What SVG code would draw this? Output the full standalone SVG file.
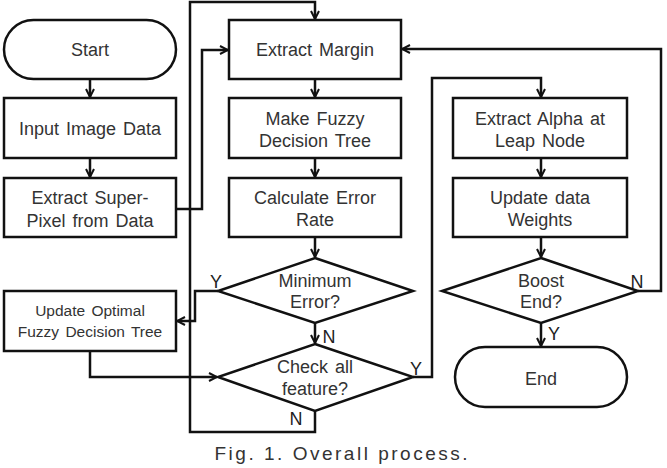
<svg xmlns="http://www.w3.org/2000/svg" width="667" height="468" viewBox="0 0 667 468">
<style>
.s{fill:#fff;stroke:#111;stroke-width:2.5}
.c{fill:none;stroke:#111;stroke-width:2.5}
.t{font-family:"Liberation Sans",Arial,sans-serif;font-size:18px;fill:#333;text-anchor:middle;word-spacing:2px}
.sm{font-size:15.5px}
.lb{font-family:"Liberation Sans",Arial,sans-serif;font-size:18px;fill:#222;text-anchor:middle}
.cap{font-family:"Liberation Sans",Arial,sans-serif;font-size:19px;fill:#333;text-anchor:middle}
</style>
<defs>
<marker id="a" viewBox="0 0 10 10" refX="9" refY="5" markerWidth="10" markerHeight="10" markerUnits="userSpaceOnUse" orient="auto">
<polyline points="1,1 9,5 1,9" fill="none" stroke="#111" stroke-width="2"/>
</marker>
</defs>
<g id="connectors">
<line class="c" x1="90" y1="79" x2="90" y2="97" marker-end="url(#a)"/>
<line class="c" x1="90" y1="158" x2="90" y2="177" marker-end="url(#a)"/>
<polyline class="c" points="176,209 202,209 202,50 228,50" marker-end="url(#a)"/>
<polyline class="c" points="315,411 315,432 190,432 190,2 315,2 315,19" marker-end="url(#a)"/>
<line class="c" x1="315" y1="79" x2="315" y2="97" marker-end="url(#a)"/>
<line class="c" x1="315" y1="158" x2="315" y2="177" marker-end="url(#a)"/>
<line class="c" x1="315" y1="237" x2="315" y2="257" marker-end="url(#a)"/>
<line class="c" x1="315" y1="323" x2="315" y2="343" marker-end="url(#a)"/>
<polyline class="c" points="218,291 195,291 195,321 177,321" marker-end="url(#a)"/>
<polyline class="c" points="90,351 90,377 217,377" marker-end="url(#a)"/>
<polyline class="c" points="413,377 432,377 432,78 541,78 541,97" marker-end="url(#a)"/>
<line class="c" x1="541" y1="158" x2="541" y2="177" marker-end="url(#a)"/>
<line class="c" x1="541" y1="237" x2="541" y2="257" marker-end="url(#a)"/>
<line class="c" x1="541" y1="323" x2="541" y2="346" marker-end="url(#a)"/>
<polyline class="c" points="638,291 661,291 661,49 402,49" marker-end="url(#a)"/>
<text class="lb" x="216" y="288">Y</text>
<text class="lb" x="329" y="343">N</text>
<text class="lb" x="416" y="375">Y</text>
<text class="lb" x="296" y="425">N</text>
<text class="lb" x="637" y="288">N</text>
<text class="lb" x="554" y="340">Y</text>
</g>
<g id="start"><rect class="s" x="4" y="20" width="172" height="59" rx="29.5"/><text class="t" x="90" y="56">Start</text></g>
<g id="input"><rect class="s" x="4" y="98" width="172" height="60"/><text class="t" x="90" y="135">Input Image Data</text></g>
<g id="superpixel"><rect class="s" x="4" y="178" width="172" height="59"/><text class="t" x="90" y="204">Extract Super-</text><text class="t" x="90" y="227">Pixel from Data</text></g>
<g id="updateoptimal"><rect class="s" x="4" y="291" width="172" height="60"/><text class="t sm" x="90" y="316">Update Optimal</text><text class="t sm" x="90" y="337">Fuzzy Decision Tree</text></g>
<g id="margin"><rect class="s" x="229" y="20" width="172" height="59"/><text class="t" x="315" y="56">Extract Margin</text></g>
<g id="fuzzy"><rect class="s" x="229" y="98" width="172" height="60"/><text class="t" x="315" y="125">Make Fuzzy</text><text class="t" x="315" y="147">Decision Tree</text></g>
<g id="error"><rect class="s" x="229" y="178" width="172" height="59"/><text class="t" x="315" y="204">Calculate Error</text><text class="t" x="315" y="226">Rate</text></g>
<g id="minerror"><polygon class="s" points="315,258 413,291 315,323 218,291"/><text class="t" x="315" y="287">Minimum</text><text class="t" x="315" y="308">Error?</text></g>
<g id="checkall"><polygon class="s" points="315,344 413,377 315,411 218,377"/><text class="t" x="315" y="373">Check all</text><text class="t" x="315" y="395">feature?</text></g>
<g id="alpha"><rect class="s" x="453" y="98" width="174" height="60"/><text class="t" x="540" y="125">Extract Alpha at</text><text class="t" x="540" y="147">Leap Node</text></g>
<g id="weights"><rect class="s" x="453" y="178" width="174" height="59"/><text class="t" x="540" y="204">Update data</text><text class="t" x="540" y="226">Weights</text></g>
<g id="boost"><polygon class="s" points="541,258 638,291 541,323 442,291"/><text class="t" x="541" y="287">Boost</text><text class="t" x="541" y="308">End?</text></g>
<g id="end"><rect class="s" x="455" y="347" width="172" height="60" rx="30"/><text class="t" x="541" y="385">End</text></g>
<text class="cap" x="341" y="460" textLength="253" lengthAdjust="spacing">Fig. 1. Overall process.</text>
</svg>
